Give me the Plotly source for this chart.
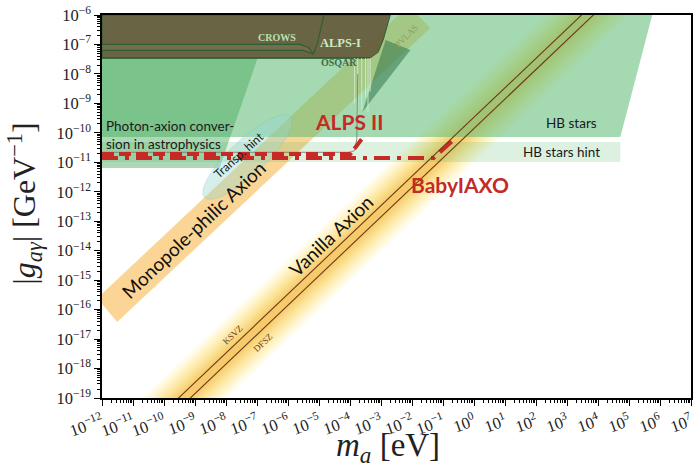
import numpy as np
import plotly.graph_objects as go

# ---------------- axis setup (log10 units) ----------------
x_range = [-12, 7]
y_range = [-19, -6]
x_tick_exps = list(range(-12, 8))
y_tick_exps = list(range(-19, -5))

# ---------------- regions (log10 m[eV], log10 g[GeV^-1]) ----------------
hb_m = [-12, 5.75, 4.72, -12]
hb_g = [-6, -6, -10.14, -10.14]
hb_hint_m = [-12, 4.72, 4.72, -12]
hb_hint_g = [-10.31, -10.31, -10.99, -10.99]
astro_m = [-12, -6.98, -8.21, -12]
astro_g = [-7.46, -7.46, -11.19, -11.19]
lab_m = [-12, -12, -3.35, -3.09, -2.93, -2.70]
lab_g = [-6, -7.46, -7.46, -7.26, -6.85, -6.0]
crows_m = [-12, -5.6, -5.35, -5.18, -5.05, -4.92, -4.84]
crows_g = [-7.0, -7.0, -7.1, -7.33, -6.95, -6.35, -6.0]
alps1_m = [-12, -5.5, -5.18]
alps1_g = [-7.2, -7.2, -7.33]
osqar_m = [-12, -3.35]
osqar_g = [-7.46, -7.46]
pvlas_m = [-2.85, -2.05, -3.60]
pvlas_g = [-6.85, -7.19, -9.29]
spike_m = [-3.85, -3.75, -3.62, -3.5, -3.42, -3.35]
spike_g_low = [-9.0, -9.5, -9.2, -8.8, -9.3, -8.6]

# projected sensitivities
alps2_thin_m = [-12, -4.0, -3.85, -3.78, -3.75]
alps2_thin_g = [-10.66, -10.66, -10.6, -10.2, -8.0]
alps2_m = [-12, -3.99, -3.57]
alps2_g = [-10.72, -10.72, -10.14]
iaxo_m = [-12, -1.30, -0.60]
iaxo_g = [-10.85, -10.85, -10.18]

# axion bands: log g = log m + c
ksvz_c = -9.47
dfsz_c = -9.85
vanilla_center_c = -9.66
vanilla_half_widths = [1.35, 1.2, 1.07, 0.95, 0.84, 0.74, 0.64, 0.55, 0.46, 0.38, 0.3, 0.22]
band_m_span = [-13.5, 7.5]

monopole_m = [-12.15, -11.51, -1.41, -2.12]
monopole_g = [-15.61, -16.42, -6.44, -5.69]

# transparency hint ellipse (center, semi-axes in decades, angle)
transp_center = (-7.31, -10.82)
transp_axes = (1.95, 0.58)
transp_angle_deg = 45.0

RED = "#c42a26"
fig = go.Figure()


def P(v):
    return [10.0 ** t for t in v]


def poly(m, g, color, line_color=None, lw=0):
    fig.add_trace(go.Scatter(x=P(m + [m[0]]), y=P(g + [g[0]]), mode="lines", fill="toself",
                             fillcolor=color,
                             line=dict(color=line_color or "rgba(0,0,0,0)", width=lw),
                             hoverinfo="skip", showlegend=False))


def line(m, g, color, width, dash="solid"):
    fig.add_trace(go.Scatter(x=P(m), y=P(g), mode="lines",
                             line=dict(color=color, width=width, dash=dash),
                             hoverinfo="skip", showlegend=False))


# vanilla axion band: smooth yellow→orange gradient from stacked translucent strips
n = len(vanilla_half_widths)
for i, hw in enumerate(vanilla_half_widths):
    f = i / (n - 1)
    r = int(255 - 12 * f)
    gcol = int(228 - 55 * f)
    bcol = int(110 - 50 * f)
    c1, c2 = vanilla_center_c + hw, vanilla_center_c - hw
    mm = [band_m_span[0], band_m_span[1], band_m_span[1], band_m_span[0]]
    gg = [band_m_span[0] + c1, band_m_span[1] + c1, band_m_span[1] + c2, band_m_span[0] + c2]
    poly(mm, gg, f"rgba({r},{gcol},{bcol},0.13)")

# monopole-philic band
poly(monopole_m, monopole_g, "rgba(246,182,72,0.58)")

# green regions
poly(hb_m, hb_g, "rgba(100,190,120,0.58)")
poly(hb_hint_m, hb_hint_g, "rgba(100,190,120,0.22)")
poly(astro_m, astro_g, "rgba(70,168,90,0.45)")

# transparency hint ellipse
t = np.linspace(0, 2 * np.pi, 120)
a, b = transp_axes
th = np.deg2rad(transp_angle_deg)
em = transp_center[0] + a * np.cos(t) * np.cos(th) - b * np.sin(t) * np.sin(th)
eg = transp_center[1] + a * np.cos(t) * np.sin(th) + b * np.sin(t) * np.cos(th)
poly(list(em), list(eg), "rgba(150,215,210,0.40)", "rgba(120,190,185,0.35)", 0.8)

# lab (light-shining-through-wall) region
poly(lab_m, lab_g, "rgba(100,90,58,0.92)", "#2f5e35", 1)
poly(crows_m + alps1_m[::-1], crows_g + alps1_g[::-1], "rgba(140,130,95,0.35)")
line(crows_m, crows_g, "#2f5e35", 1.2)
line(alps1_m, alps1_g, "#2f5e35", 1.2)
line(osqar_m, osqar_g, "#2f5e35", 1.5)
poly(pvlas_m, pvlas_g, "rgba(40,110,70,0.50)")
for sm, sg in zip(spike_m, spike_g_low):
    line([sm, sm], [-7.46, sg], "rgba(215,238,210,0.85)", 1)

# ALPS II / BabyIAXO
line(alps2_thin_m, alps2_thin_g, "rgba(120,130,120,0.9)", 1)
line(alps2_m, alps2_g, RED, 4, "12px,5px")
line(iaxo_m, iaxo_g, RED, 4, "16px,7px,4px,7px")

# QCD axion model lines
for c in (ksvz_c, dfsz_c):
    line(band_m_span, [band_m_span[0] + c, band_m_span[1] + c], "#6b3a1a", 1.1)

# ---------------- annotations ----------------
ann = []


def text(x, y, s, size, color="#1a1a1a", family="Lato", angle=0, xanchor="center", bold=False):
    if bold:
        s = "<b>" + s + "</b>"
    ann.append(dict(x=x, y=y, xref="x", yref="y", text=s, showarrow=False, textangle=angle,
                    xanchor=xanchor, yanchor="middle", align="left",
                    font=dict(size=size, color=color, family=family)))


text(-11.92, -10.06, "Photon-axion conver-<br>sion in astrophysics", 13.5, xanchor="left")
text(3.16, -9.67, "HB stars", 13.5)
text(2.82, -10.65, "HB stars hint", 13.5)
text(-4.02, -9.63, "ALPS II", 21, RED, bold=True)
text(-0.44, -11.74, "BabyIAXO", 21, RED, bold=True)
text(-9.05, -13.28, "Monopole-philic Axion", 19, "#111", angle=-43.5)
text(-4.63, -13.47, "Vanilla Axion", 19, "#111", angle=-43.5)
text(-7.79, -16.86, "KSVZ", 9, "#6b3a1a", "Liberation Serif", angle=-43.5)
text(-6.82, -17.13, "DFSZ", 9, "#6b3a1a", "Liberation Serif", angle=-43.5)
text(-7.57, -10.75, "Transp. hint", 12, "#1a1a1a", angle=-42)
text(-6.34, -6.75, "CROWS", 10, "#b8e0b0", "Liberation Serif", bold=True)
text(-4.31, -6.95, "ALPS-I", 12.5, "#cfe9c6", "Liberation Serif", bold=True)
text(-4.34, -7.62, "OSQAR", 10, "#3d6b48", "Liberation Serif", bold=True)
text(-2.18, -6.71, "PVLAS", 9, "#8d9c58", "Liberation Serif", angle=-45)

# axis titles as paper annotations
ann.append(dict(x=0.486, y=-0.128, xref="paper", yref="paper", showarrow=False,
                xanchor="center", yanchor="middle",
                font=dict(family="Liberation Serif", size=33, color="#222"),
                text="<i>m</i><sub><i>a</i></sub> [eV]"))
ann.append(dict(x=-0.132, y=0.508, xref="paper", yref="paper", showarrow=False,
                xanchor="center", yanchor="middle", textangle=-90,
                font=dict(family="Liberation Serif", size=32, color="#222"),
                text="|<i>g</i><sub><i>a\u03b3</i></sub>| [GeV<sup>\u22121</sup>]"))


def sup(e):
    return "10<sup>" + str(e).replace("-", "\u2212") + "</sup>"


def minor_vals(lo, hi):
    return [k * 10.0 ** d for d in range(lo, hi) for k in range(2, 10)]


axis_font = dict(family="Liberation Serif", size=16.5, color="#222")
common = dict(type="log", showgrid=False, zeroline=False, automargin=False,
              showline=True, linecolor="black", linewidth=1.5, mirror=True,
              ticks="outside", ticklen=6, tickwidth=1.2, tickcolor="black",
              tickfont=axis_font, ticklabeloverflow="allow")
fig.update_layout(
    width=700, height=468,
    margin=dict(l=102, r=9, t=15, b=70),
    paper_bgcolor="white", plot_bgcolor="white",
    showlegend=False,
    annotations=ann,
    xaxis=dict(range=x_range,
               tickvals=[10.0 ** e for e in x_tick_exps],
               ticktext=[sup(e) for e in x_tick_exps], tickangle=-20,
               minor=dict(tickmode="array", tickvals=minor_vals(-12, 7), ticks="outside",
                          ticklen=3.5, tickwidth=0.8, tickcolor="black", showgrid=False),
               **common),
    yaxis=dict(range=y_range,
               tickvals=[10.0 ** e for e in y_tick_exps],
               ticktext=[sup(e) for e in y_tick_exps],
               minor=dict(tickmode="array", tickvals=minor_vals(-19, -6), ticks="outside",
                          ticklen=3.5, tickwidth=0.8, tickcolor="black", showgrid=False),
               **common),
)

# remove the default page margin so the 700x468 figure fills the window exactly
fig.write_html("out.html", config={"displayModeBar": False},
               post_script="document.body.style.margin='0';document.body.style.overflow='hidden';")
